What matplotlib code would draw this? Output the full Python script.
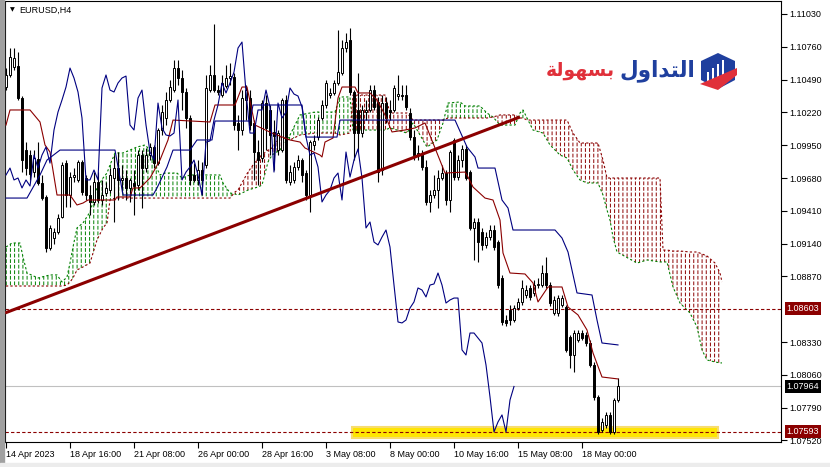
'''
EURUSD H4 with Ichimoku cloud
'''

import numpy as np
import matplotlib
matplotlib.use("Agg")
from matplotlib import pyplot as plt
from matplotlib.patches import Rectangle, Polygon
import matplotlib.transforms as mtransforms

# candles, prices in points (1e-5)
open_pts = [110429,110528,110594,110602,110338,109910,109869,109729,109836,109639,
	109524,109104,109186,109236,109359,109803,109540,109688,109664,109812,
	109680,109540,109483,109647,109499,109557,109581,109680,109762,109664,
	109680,109598,109639,109622,109869,109762,109869,109935,109803,110075,
	110174,110322,110404,110585,110503,110388,110174,109705,109664,109746,
	109787,110404,110528,110404,110363,110437,110503,110511,110133,110075,
	110322,110338,110133,109894,109845,110297,110240,110059,109910,109910,
	110322,109647,109664,109771,109828,109721,109540,109952,110017,110174,
	110281,110363,110380,110462,110544,110750,110816,110388,110240,110050,
	110223,110240,110404,110306,109746,110297,110240,110240,110355,110363,
	110363,110215,110017,109869,109886,109771,109483,109540,109581,109680,
	109721,109499,109993,109688,109828,109919,109729,109269,109318,109236,
	109129,109194,109252,109153,108857,108511,108594,108511,108610,108660,
	108717,108775,108734,108799,108799,108898,108799,108569,108569,108635,
	108618,108371,108223,108347,108404,108388,108322,108141,107878,107606,
	107647,107730,107590,107853]
high_pts = [110585,110750,110750,110717,110355,109976,109910,109910,109976,109705,
	109540,109293,109269,109384,109812,109828,109729,109762,109828,109828,
	109705,109622,109729,109729,109664,109647,109762,109869,109894,109787,
	109746,109680,109746,109910,109910,109927,109968,109952,110092,110281,
	110388,110487,110651,110651,110569,110421,110199,109803,109828,109812,
	110528,110610,110947,110445,110528,110610,110626,110544,110199,110404,
	110445,110404,110157,109993,110322,110363,110281,110157,110075,110338,
	110363,109787,109812,109869,109845,109746,109993,110034,110182,110322,
	110487,110421,110487,110898,110816,110873,110915,110404,110544,110281,
	110322,110445,110445,110347,110363,110347,110322,110445,110528,110445,
	110445,110256,110075,109952,109910,109828,109581,109705,109746,109787,
	109746,109910,110009,109869,109952,109952,109746,109351,109351,109269,
	109236,109293,109293,109170,108882,108553,108635,108635,108692,108841,
	108799,108799,108841,108857,108964,109030,108824,108709,108717,108717,
	108635,108388,108429,108429,108429,108413,108347,108166,107894,107705,
	107754,107754,107869,108034]
low_pts = [110404,110511,110569,110322,109729,109705,109664,109688,109622,109499,
	109071,109087,109137,109219,109351,109441,109441,109647,109647,109540,
	109499,109376,109458,109474,109458,109532,109557,109318,109499,109565,
	109499,109483,109376,109581,109433,109729,109828,109762,109787,110034,
	110116,110306,110388,110445,110240,110092,109622,109647,109622,109540,
	109762,110388,110388,110363,110347,110421,110445,110075,109910,110034,
	110157,110075,109664,109622,109812,109910,109869,109746,109869,109894,
	109639,109622,109639,109746,109647,109499,109400,109910,109993,110157,
	110256,110338,110363,110445,110528,110717,110363,109828,109894,110017,
	110157,110223,110240,109647,109705,110133,110157,110223,110322,110322,
	110240,109993,109828,109828,109746,109458,109400,109515,109433,109664,
	109458,109400,109664,109664,109771,109664,109252,109005,108989,109087,
	109104,109170,109087,108775,108470,108462,108470,108495,108594,108635,
	108692,108676,108709,108775,108783,108775,108627,108553,108544,108618,
	108248,108116,108083,108330,108347,108297,108125,107853,107573,107590,
	107623,107573,107573,107836]
close_pts = [110528,110676,110668,110338,109828,109762,109713,109845,109639,109515,
	109104,109269,109236,109351,109787,109540,109688,109705,109812,109565,
	109540,109483,109647,109499,109540,109598,109705,109762,109664,109680,
	109598,109664,109614,109869,109762,109869,109935,109803,110075,110223,
	110322,110429,110585,110503,110388,110174,109664,109664,109746,109664,
	110421,110528,110404,110388,110462,110503,110519,110116,110075,110338,
	110404,110116,109894,109828,110297,110092,110034,110026,110050,110322,
	109664,109729,109771,109828,109705,109540,109976,109985,110157,110281,
	110462,110380,110462,110552,110750,110799,110388,110050,110050,110240,
	110240,110404,110264,109729,110297,110174,110223,110421,110371,110355,
	110264,110017,109869,109886,109771,109483,109540,109581,109680,109721,
	109499,109894,109688,109828,109919,109680,109269,109318,109153,109129,
	109194,109252,109112,108799,108495,108487,108511,108610,108660,108775,
	108758,108701,108799,108808,108898,108799,108651,108676,108692,108692,
	108265,108223,108404,108404,108363,108322,108141,107878,107590,107672,
	107730,107590,107853,107964]

# Tenkan-sen / Kijun-sen vertices (bar index, points)
tenkan_bar = [0,1,6,8.5,9.75,11,12.75,16,17.75,19.25,20.5,27.25,27.75,31,31.75,33.5,36,38.5,
	40.5,41.75,51,52.25,57.25,59,60.25,62.25,66.5,71,73.5,74.75,78.5,79,79.75,81.75,83,84,
	87.25,88,91,92.75,94.75,96.5,99.75,102.25,104.75,109.75,114.75,115.5,116.75,119.75,
	121.75,123.5,124.25,126,129.75,131.75,133,135.5,139,140.5,143,145.25,146.75,149,153]
tenkan_pts = [110116,110240,110240,110141,109952,109894,109540,109540,109458,109474,109499,
	109499,109524,109524,109598,109598,109680,109828,109993,110157,110141,110281,110281,
	110429,110429,110116,110050,109993,109976,109927,109869,109853,109976,110009,110338,
	110429,110429,110380,110380,110322,110199,110059,110075,110092,110133,109721,109729,
	109688,109606,109515,109499,109334,109063,108898,108890,108816,108660,108783,108783,
	108618,108553,108429,108240,108042,108026]
kijun_bar = [0,5.25,8.5,10.25,13.5,27.25,29.25,36.75,37.75,40.25,41.75,46,47.75,51.5,52.25,
	61,61.75,74,75,82.75,83.5,112.25,115.25,117.25,118,122.25,124,125.5,126.75,137.25,139,
	140.5,142.75,146.5,147.75,149,153]
kijun_pts = [109515,109515,109705,109828,109910,109910,109540,109540,109598,109771,109910,
	109910,109993,109993,110149,110149,110281,110281,110017,110017,110157,110157,109935,
	109853,109762,109762,109499,109433,109252,109252,109186,109071,108734,108717,108511,
	108322,108306]

# Senkou span A / B (shifted 26 bars forward)
cloud_bar = [0,1.5,3.5,4.25,5.25,8,11,12.75,14,15.25,16,16.75,17.75,19.25,21,22.75,24.25,
	25.25,26,27.25,29.25,31,32.75,34.75,35.5,36.75,38.5,39.75,42.75,44,46,53.5,54.25,56,
	57.25,58,60.5,63,64,65.5,66.5,68.5,71,73.5,77.25,82.25,83.5,86,86.75,94.75,96,100.25,
	101.75,105.25,107.75,109.25,110.5,113.5,114.75,118.5,120.25,121.75,123.5,127.25,128.5,
	129.25,130.25,131.75,134.25,136,138.5,140.25,141.75,143.5,145.25,148,149.25,150.25,151,
	151.75,152.75,157.75,160.25,163.5,164.25,165.25,166.75,168.5,171,172.75,174,175.25,
	177.25,178.5,179]
span_a_pts = [109112,109145,109145,109030,108898,108857,108882,108882,108824,108865,108980,
	109112,109269,109310,109400,109598,109680,109721,109787,109886,109886,109910,109935,
	109952,109927,109828,109705,109721,109721,109680,109705,109705,109639,109557,109548,
	109540,109581,109606,109622,109812,109869,109910,110034,110199,110223,110223,110347,
	110347,110075,110075,110092,110050,110133,109935,109993,110133,110297,110306,110273,
	110273,110215,110182,110116,110116,110215,110240,110174,110075,110050,109952,109869,
	109845,109746,109664,109639,109639,109540,109417,109334,109194,109071,108980,109005,
	108989,108989,108989,108783,108651,108569,108454,108265,108182,108166,108158,108158]
span_b_pts = [108791,108791,108791,108791,108791,108791,108791,108791,108791,108799,108824,
	108857,108923,108948,108980,109170,109269,109310,109499,109515,109515,109515,109515,
	109515,109515,109515,109515,109515,109515,109515,109515,109515,109515,109515,109565,
	109581,109729,109845,109869,109910,109927,110017,109993,110034,110050,110050,110034,
	110050,110363,110363,110215,110215,110157,110157,110157,110157,110174,110174,110174,
	110174,110174,110182,110199,110199,110174,110174,110157,110157,110157,110157,110157,
	110157,110050,109968,109968,109968,109828,109680,109680,109680,109680,109680,109680,
	109680,109087,109087,109079,109079,109071,109071,109055,109038,108980,108898,108824]

# trend line anchors
trend_bar = [-0.25, 128.5]
trend_pts = [108569, 110182]

level_upper = 1.08603
level_lower = 1.07593
bid = 1.07964
zone_bar = [86.5, 178]
zone_price = [1.07542, 1.07630]

price_ticks = [1.11030,1.10760,1.10490,1.10220,1.09950,1.09680,1.09410,1.09140,
	1.08870,1.08330,1.08060,1.07790,1.07520]
time_ticks = [0,16,32,48,64,80,96,112,128,144]
time_labels = ["14 Apr 2023","18 Apr 16:00","21 Apr 08:00","26 Apr 00:00","28 Apr 16:00",
	"3 May 08:00","8 May 00:00","10 May 16:00","15 May 08:00","18 May 00:00"]

o = np.array(open_pts)/1e5
h = np.array(high_pts)/1e5
l = np.array(low_pts)/1e5
c = np.array(close_pts)/1e5
idx = np.arange(len(c))
sa = np.array(span_a_pts)/1e5
sb = np.array(span_b_pts)/1e5
cb = np.array(cloud_bar)

plt.rcParams['font.family'] = ['Liberation Sans', 'DejaVu Sans']

fig = plt.figure(figsize=(8.3, 4.67), dpi=100)
ax = fig.add_axes([5/830, 25/467, 776/830, 441/467])
ax.set_xlim(-0.25, 193.75)
ax.set_ylim(1.07507, 1.11137)

green = '#008000'
dred = '#8b0000'
navy = '#000080'

# cloud: vertical hatch, broken into dashes by white horizontal hatch
plt.rcParams['hatch.linewidth'] = 0.7
ax.fill_between(cb, sa, sb, where=sa >= sb, interpolate=True, facecolor='none',
	edgecolor=green, hatch='||||', linewidth=0, zorder=1)
ax.fill_between(cb, sa, sb, where=sa < sb, interpolate=True, facecolor='none',
	edgecolor=dred, hatch='||||', linewidth=0, zorder=1)
plt.rcParams['hatch.linewidth'] = 1.3
ax.fill_between(cb, sa, sb, facecolor='none', edgecolor='white', hatch='---',
	linewidth=0, zorder=1.2)
ax.plot(cb, sa, color=green, lw=0.8, ls=(0, (2, 2)), zorder=1.5)
ax.plot(cb, sb, color=dred, lw=0.8, ls=(0, (2, 2)), zorder=1.5)

# levels
ax.add_patch(Rectangle((zone_bar[0], zone_price[0]), zone_bar[1]-zone_bar[0],
	zone_price[1]-zone_price[0], facecolor='#ffe600', edgecolor='#f7dc6f', lw=1.5, zorder=2))
ax.axhline(bid, color='#c0c0c0', lw=0.8, zorder=2)
ax.axhline(level_upper, color=dred, lw=0.8, ls=(0, (3, 2)), zorder=2.2)
ax.axhline(level_lower, color=dred, lw=0.8, ls=(0, (3, 2)), zorder=2.2)

# candles
up = c >= o
ax.vlines(idx, l, h, color='black', lw=0.8, zorder=3)
ax.bar(idx[up], (c-o)[up], bottom=o[up], width=0.6, color='white', edgecolor='black', lw=0.7, zorder=4)
ax.bar(idx[~up], (c-o)[~up], bottom=o[~up], width=0.6, color='black', edgecolor='black', lw=0.7, zorder=4)

# ichimoku lines
ax.plot(tenkan_bar, np.array(tenkan_pts)/1e5, color=dred, lw=0.8, zorder=5)
ax.plot(kijun_bar, np.array(kijun_pts)/1e5, color=navy, lw=0.8, zorder=5)
ax.plot(idx[:-26], c[26:], color=navy, lw=0.8, zorder=5)

# trend line
ax.plot(trend_bar, np.array(trend_pts)/1e5, color=dred, lw=2.2, zorder=6, solid_capstyle='butt')

# axes
for s in ax.spines.values():
	s.set_linewidth(0.8)
ax.yaxis.tick_right()
ax.set_yticks(price_ticks)
ax.set_yticklabels(["%.5f" % v for v in price_ticks])
ax.set_xticks(time_ticks)
ax.set_xticklabels(time_labels)
for lbl in ax.get_xticklabels():
	lbl.set_horizontalalignment('left')
ax.tick_params(axis='both', direction='out', length=4, width=0.8, labelsize=6.5, pad=2)

# price boxes
trans = mtransforms.blended_transform_factory(ax.transAxes, ax.transData)
for val, bg in [(level_upper, dred), (bid, 'black'), (level_lower, dred)]:
	ax.text(1.0075, val, "%.5f" % val, transform=trans, ha='left', va='center', color='white',
		fontsize=6.5, clip_on=False, zorder=10,
		bbox=dict(boxstyle='square,pad=0.22', facecolor=bg, edgecolor='none'))

# title
fig.text(10/830, 1-10/467, u'\u25bc', fontsize=4.5, va='center', ha='left', family='DejaVu Sans')
fig.text(19/830, 1-10/467, 'EURUSD,H4', fontsize=6.5, va='center', ha='left')

# window frame bits
fig.patches.append(Rectangle((0, 0), 3.5/830, 1, transform=fig.transFigure, color='#a0a0a0', zorder=0))
fig.patches.append(Rectangle((0, 0), 1, 4/467, transform=fig.transFigure, color='#ececec', zorder=0))

# logo
lax = fig.add_axes([0, 0, 1, 1], zorder=10)
lax.set_xlim(0, 830)
lax.set_ylim(467, 0)
lax.axis('off')
lax.text(695, 76, u'\ufedd\ufeed\ufe8d\ufeaa\ufe98\ufedf\ufe8d', color='#1f3f9e', fontsize=15.5,
	fontweight='bold', ha='right', va='baseline', family='DejaVu Sans')
lax.text(615, 76, u'\ufe94\ufedf\ufeee\ufeec\ufeb4\ufe91', color='#e0303a', fontsize=13.5,
	fontweight='bold', ha='right', va='baseline', family='DejaVu Sans')
hexagon = Polygon([(718, 53), (735, 61), (735, 80), (718, 89), (701, 80), (701, 61)],
	closed=True, facecolor='#1f3f9e', edgecolor='none')
lax.add_patch(hexagon)
for bx, top in [(707, 72), (712, 68), (717, 64), (722, 60)]:
	lax.add_patch(Rectangle((bx, top), 2.0, 82-top, facecolor='white', edgecolor='none'))
lax.add_patch(Polygon([(700, 84), (737, 68), (737, 75), (718, 90)], closed=True,
	facecolor='#e0303a', edgecolor='none'))

fig.savefig('out.png', dpi=100)
